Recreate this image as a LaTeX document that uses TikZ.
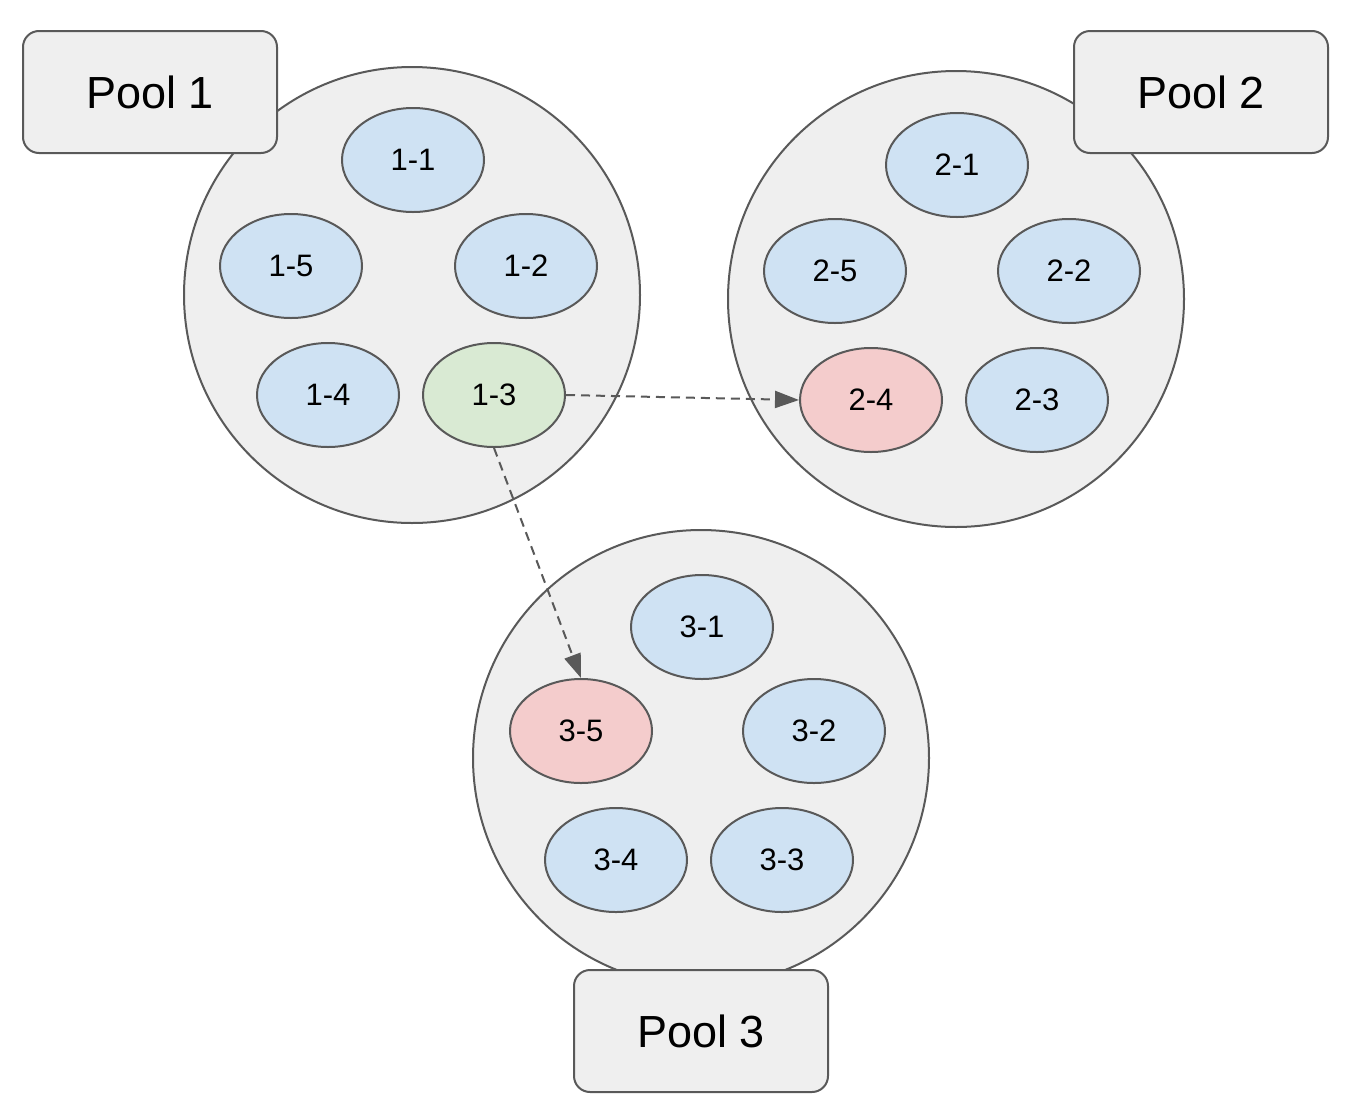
\documentclass[tikz,border=0pt]{standalone}
\usepackage{fontspec}
\setmainfont{Liberation Sans}
\usetikzlibrary{arrows.meta,shapes.geometric}
\definecolor{poolfill}{HTML}{EFEFEF}
\definecolor{edge}{HTML}{595959}
\definecolor{bluef}{HTML}{CFE2F3}
\definecolor{greenf}{HTML}{D9EAD3}
\definecolor{redf}{HTML}{F4CCCC}
\tikzset{
  pool/.style={circle, draw=edge, fill=poolfill, line width=2pt, minimum size=456pt, inner sep=0pt},
  poollabel/.style={draw=edge, fill=poolfill, line width=2pt, rounded corners=16pt, minimum width=254pt, minimum height=122pt, inner sep=0pt, font=\fontsize{45}{45}\selectfont},
  member/.style={ellipse, draw=edge, line width=2pt, minimum width=142pt, minimum height=104pt, inner sep=0pt, font=\fontsize{31}{31}\selectfont},
  bluem/.style={member, fill=bluef},
  greenm/.style={member, fill=greenf},
  redm/.style={member, fill=redf},
  conn/.style={draw=edge, line width=2pt, dash pattern=on 9pt off 6pt, -{Triangle[length=24pt, width=17pt, fill=edge]}}
}
\begin{document}
\begin{tikzpicture}[x=1pt, y=-1pt]
\useasboundingbox (0,0) rectangle (1354,1114);
% pools
\node[pool] (p1) at (412,295) {};
\node[pool] (p2) at (956,299) {};
\node[pool] (p3) at (701,758) {};
% labels
\node[poollabel] (l1) at (150,92) {Pool 1};
\node[poollabel] (l2) at (1201,92) {Pool 2};
\node[poollabel] (l3) at (701,1031) {Pool 3};
% pool 1
\node[bluem] (n11) at (413,160) {1-1};
\node[bluem] (n15) at (291,266) {1-5};
\node[bluem] (n12) at (526,266) {1-2};
\node[bluem] (n14) at (328,395) {1-4};
\node[greenm] (n13) at (494,395) {1-3};
% pool 2
\node[bluem] (n21) at (957,165) {2-1};
\node[bluem] (n25) at (835,271) {2-5};
\node[bluem] (n22) at (1069,271) {2-2};
\node[redm] (n24) at (871,400) {2-4};
\node[bluem] (n23) at (1037,400) {2-3};
% pool 3
\node[bluem] (n31) at (702,627) {3-1};
\node[redm] (n35) at (581,731) {3-5};
\node[bluem] (n32) at (814,731) {3-2};
\node[bluem] (n34) at (616,860) {3-4};
\node[bluem] (n33) at (782,860) {3-3};
% connectors
\draw[conn] (n13.east) -- (n24.west);
\draw[conn] (n13.south) -- (n35.north);
\end{tikzpicture}
\end{document}
